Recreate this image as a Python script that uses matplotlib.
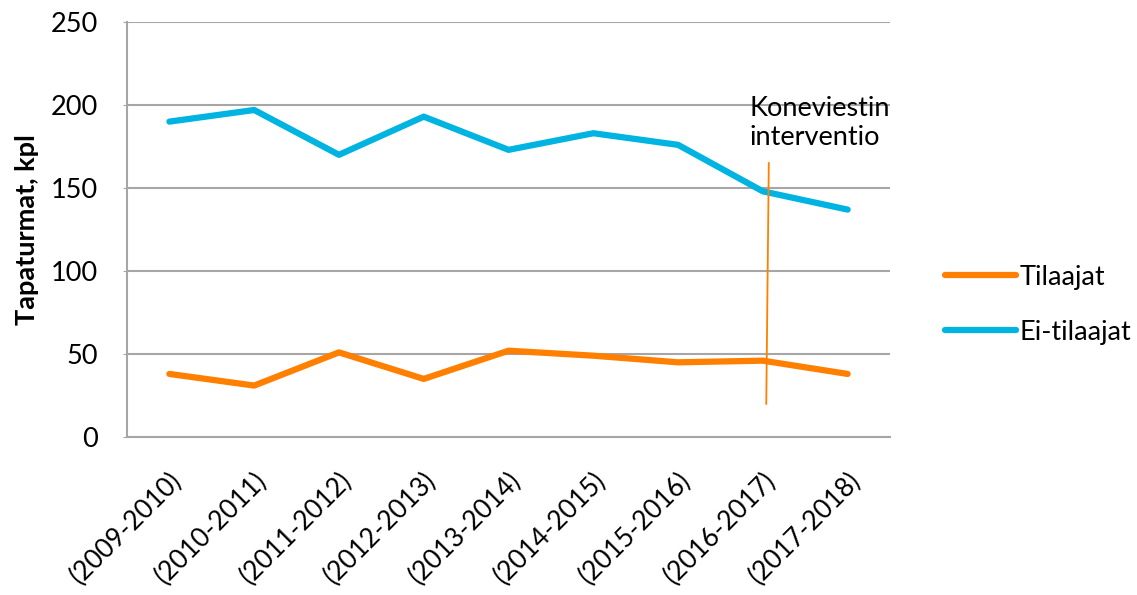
import matplotlib.pyplot as plt
from matplotlib.lines import Line2D

plt.rcParams['font.family'] = ['Lato', 'DejaVu Sans']

# Data
seasons = ['(2009-2010)', '(2010-2011)', '(2011-2012)', '(2012-2013)', '(2013-2014)',
           '(2014-2015)', '(2015-2016)', '(2016-2017)', '(2017-2018)']
tilaajat = [38, 31, 51, 35, 52, 49, 45, 46, 38]
ei_tilaajat = [190, 197, 170, 193, 173, 183, 176, 148, 137]

c_orange = '#FF8000'
c_blue = '#00B4E1'
c_grid = '#A6A6A6'

fig = plt.figure(figsize=(11.37, 5.95), dpi=100)
ax = fig.add_axes([0.1117, 0.2655, 0.6711, 0.6975])

x = range(len(seasons))
ax.plot(x, tilaajat, color=c_orange, lw=4.5, solid_capstyle='round', label='Tilaajat', zorder=3)
ax.plot(x, ei_tilaajat, color=c_blue, lw=4.5, solid_capstyle='round', label='Ei-tilaajat', zorder=3)

# intervention marker
ax.plot([7.07, 7.04], [165, 20], color=c_orange, lw=1.3, zorder=4)
ax.text(6.84, 173, 'Koneviestin\ninterventio', fontsize=19.5, ha='left', va='bottom',
        linespacing=1.2, zorder=5)

ax.set_xlim(-0.5, 8.5)
ax.set_ylim(0, 250)
ax.set_yticks(range(0, 251, 50))
ax.set_xticks(list(x))
ax.set_xticklabels(seasons, rotation=45, ha='right', va='top', rotation_mode='anchor', fontsize=19)
ax.tick_params(axis='x', length=0, pad=22)
ax.tick_params(axis='y', length=3, color=c_grid, labelsize=19.5, pad=18)

ax.grid(axis='y', color=c_grid, lw=1.5)
ax.set_axisbelow(True)
for s in ['top', 'right']:
    ax.spines[s].set_visible(False)
for s in ['left', 'bottom']:
    ax.spines[s].set_color(c_grid)
    ax.spines[s].set_linewidth(1.5)

ax.set_ylabel('Tapaturmat, kpl', fontsize=19.5, fontweight='bold', labelpad=8)

handles = [Line2D([], [], color=c_orange, lw=4.5, solid_capstyle='round'),
           Line2D([], [], color=c_blue, lw=4.5, solid_capstyle='round')]
fig.legend(handles, ['Tilaajat', 'Ei-tilaajat'], loc='center left',
           bbox_to_anchor=(0.81, 0.488), frameon=False, fontsize=19.5,
           handlelength=2.6, handletextpad=0.15, labelspacing=1.1)

fig.savefig('out.png', dpi=100)
